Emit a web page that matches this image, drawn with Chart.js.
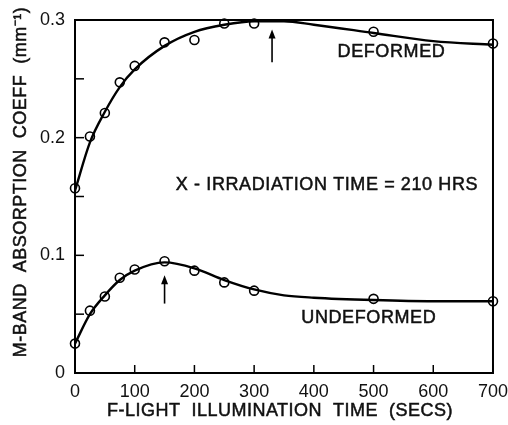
<!DOCTYPE html>
<html>
<head>
<meta charset="utf-8">
<script src="https://cdn.jsdelivr.net/npm/chart.js@4.4.0/dist/chart.umd.min.js"></script>
<style>
  html, body { margin: 0; padding: 0; background: #fff; }
  canvas { display: block; }
</style>
</head>
<body>
<canvas id="grafica" width="508" height="425"></canvas>
<script>
// Datos medidos (puntos abiertos)
var tiempos = [0, 25, 50, 75, 100, 150, 200, 250, 300, 500, 700];
var deformado = [0.157, 0.201, 0.221, 0.247, 0.261, 0.281, 0.283, 0.297, 0.297, 0.290, 0.280];
var noDeformado = [0.025, 0.053, 0.065, 0.081, 0.088, 0.095, 0.087, 0.077, 0.070, 0.063, 0.061];

// Curvas ajustadas (trazo continuo)
var tiemposCurva = [0, 25, 50, 75, 100, 150, 200, 250, 300, 350, 400, 500, 600, 700];
var curvaDeformado = [0.155, 0.196, 0.222, 0.243, 0.258, 0.278, 0.290, 0.296, 0.299, 0.299, 0.296, 0.289, 0.282, 0.279];
var curvaNoDeformado = [0.025, 0.050, 0.066, 0.079, 0.087, 0.094, 0.089, 0.079, 0.071, 0.066, 0.064, 0.062, 0.061, 0.061];

// Flechas que marcan los máximos: [x, y inicio, y fin]
var flechas = [[330, 0.264, 0.292], [150, 0.059, 0.083]];

// Etiquetas de texto: [texto, x, y]
var etiquetas = [
    ['DEFORMED', 530, 0.273],
    ['X - IRRADIATION TIME = 210 HRS', 422, 0.160],
    ['UNDEFORMED', 492, 0.047]
];

var tituloX = 'F-LIGHT  ILLUMINATION  TIME  (SECS)';
var tituloY = 'M-BAND  ABSORPTION  COEFF  (mm⁻¹)';

var marcasX = [0, 100, 200, 300, 400, 500, 600, 700];
var marcasY = [0, 0.05, 0.1, 0.15, 0.2, 0.25, 0.3];

function pares(xs, ys) {
    return xs.map(function(x, i) { return { x: x, y: ys[i] }; });
}

var fuente = '"Liberation Sans", Arial, sans-serif';

function texto(ctx, t, x, y) {
    ctx.fillText(t, x, y);
    ctx.strokeText(t, x, y);
}

// Marco, marcas hacia dentro, flechas y textos
var extras = {
    id: 'extras',
    afterDraw: function(chart) {
        var ctx = chart.ctx;
        var area = chart.chartArea;
        var sx = chart.scales.x;
        var sy = chart.scales.y;
        ctx.save();
        ctx.strokeStyle = '#000';
        ctx.lineWidth = 2;
        ctx.strokeRect(area.left, area.top, area.right - area.left, area.bottom - area.top);

        ctx.lineWidth = 1.5;
        marcasX.forEach(function(v) {
            var px = sx.getPixelForValue(v);
            ctx.beginPath();
            ctx.moveTo(px, area.bottom);
            ctx.lineTo(px, area.bottom - 8);
            ctx.stroke();
        });
        marcasY.forEach(function(v) {
            var py = sy.getPixelForValue(v);
            ctx.beginPath();
            ctx.moveTo(area.left, py);
            ctx.lineTo(area.left + 9, py);
            ctx.stroke();
        });

        flechas.forEach(function(f) {
            var px = sx.getPixelForValue(f[0]);
            var y0 = sy.getPixelForValue(f[1]);
            var y1 = sy.getPixelForValue(f[2]);
            ctx.lineWidth = 1.6;
            ctx.beginPath();
            ctx.moveTo(px, y0);
            ctx.lineTo(px, y1 + 4);
            ctx.stroke();
            ctx.beginPath();
            ctx.moveTo(px, y1);
            ctx.lineTo(px - 3.5, y1 + 9);
            ctx.lineTo(px + 3.5, y1 + 9);
            ctx.closePath();
            ctx.fillStyle = '#000';
            ctx.fill();
        });

        ctx.fillStyle = '#111';
        ctx.strokeStyle = '#111';
        ctx.lineWidth = 0.5;
        ctx.font = '18px ' + fuente;
        ctx.letterSpacing = '0.6px';
        ctx.textAlign = 'center';
        ctx.textBaseline = 'middle';
        etiquetas.forEach(function(e) {
            texto(ctx, e[0], sx.getPixelForValue(e[1]), sy.getPixelForValue(e[2]));
        });

        // Títulos de los ejes
        ctx.letterSpacing = '0.5px';
        texto(ctx, tituloX, 280, 411);
        ctx.translate(21, 182);
        ctx.rotate(-Math.PI / 2);
        texto(ctx, tituloY, 0, 0);
        ctx.restore();
    }
};

var ctx = document.getElementById('grafica').getContext('2d');
new Chart(ctx, {
    type: 'scatter',
    data: {
        datasets: [
            {
                label: 'Deformed fit',
                data: pares(tiemposCurva, curvaDeformado),
                showLine: true,
                borderColor: '#000',
                borderWidth: 2.4,
                pointRadius: 0,
                cubicInterpolationMode: 'monotone'
            },
            {
                label: 'Undeformed fit',
                data: pares(tiemposCurva, curvaNoDeformado),
                showLine: true,
                borderColor: '#000',
                borderWidth: 2.4,
                pointRadius: 0,
                cubicInterpolationMode: 'monotone'
            },
            {
                label: 'Deformed',
                data: pares(tiempos, deformado),
                pointRadius: 4.5,
                pointBackgroundColor: '#fff',
                pointBorderColor: '#000',
                pointBorderWidth: 1.6
            },
            {
                label: 'Undeformed',
                data: pares(tiempos, noDeformado),
                pointRadius: 4.5,
                pointBackgroundColor: '#fff',
                pointBorderColor: '#000',
                pointBorderWidth: 1.6
            }
        ]
    },
    options: {
        responsive: false,
        animation: false,
        clip: false,
        layout: { padding: { top: 20, right: 12, left: 0, bottom: 0 } },
        plugins: {
            legend: { display: false },
            tooltip: { enabled: false }
        },
        scales: {
            x: {
                type: 'linear',
                min: 0,
                max: 700,
                afterFit: function(scale) { scale.height = 52; },
                afterBuildTicks: function(scale) {
                    scale.ticks = marcasX.map(function(v) { return { value: v }; });
                },
                grid: { display: false },
                border: { display: false },
                ticks: {
                    color: '#111',
                    font: { family: fuente, size: 18 },
                    padding: 0,
                    maxRotation: 0
                },
                title: { display: false }
            },
            y: {
                type: 'linear',
                min: 0,
                max: 0.3,
                afterFit: function(scale) { scale.width = 75; },
                afterBuildTicks: function(scale) {
                    scale.ticks = [0, 0.1, 0.2, 0.3].map(function(v) { return { value: v }; });
                },
                grid: { display: false },
                border: { display: false },
                ticks: {
                    color: '#111',
                    font: { family: fuente, size: 18 },
                    padding: 2,
                    callback: function(v) { return v === 0 ? '0' : v.toFixed(1); }
                },
                title: { display: false }
            }
        }
    },
    plugins: [extras]
});
</script>
</body>
</html>
